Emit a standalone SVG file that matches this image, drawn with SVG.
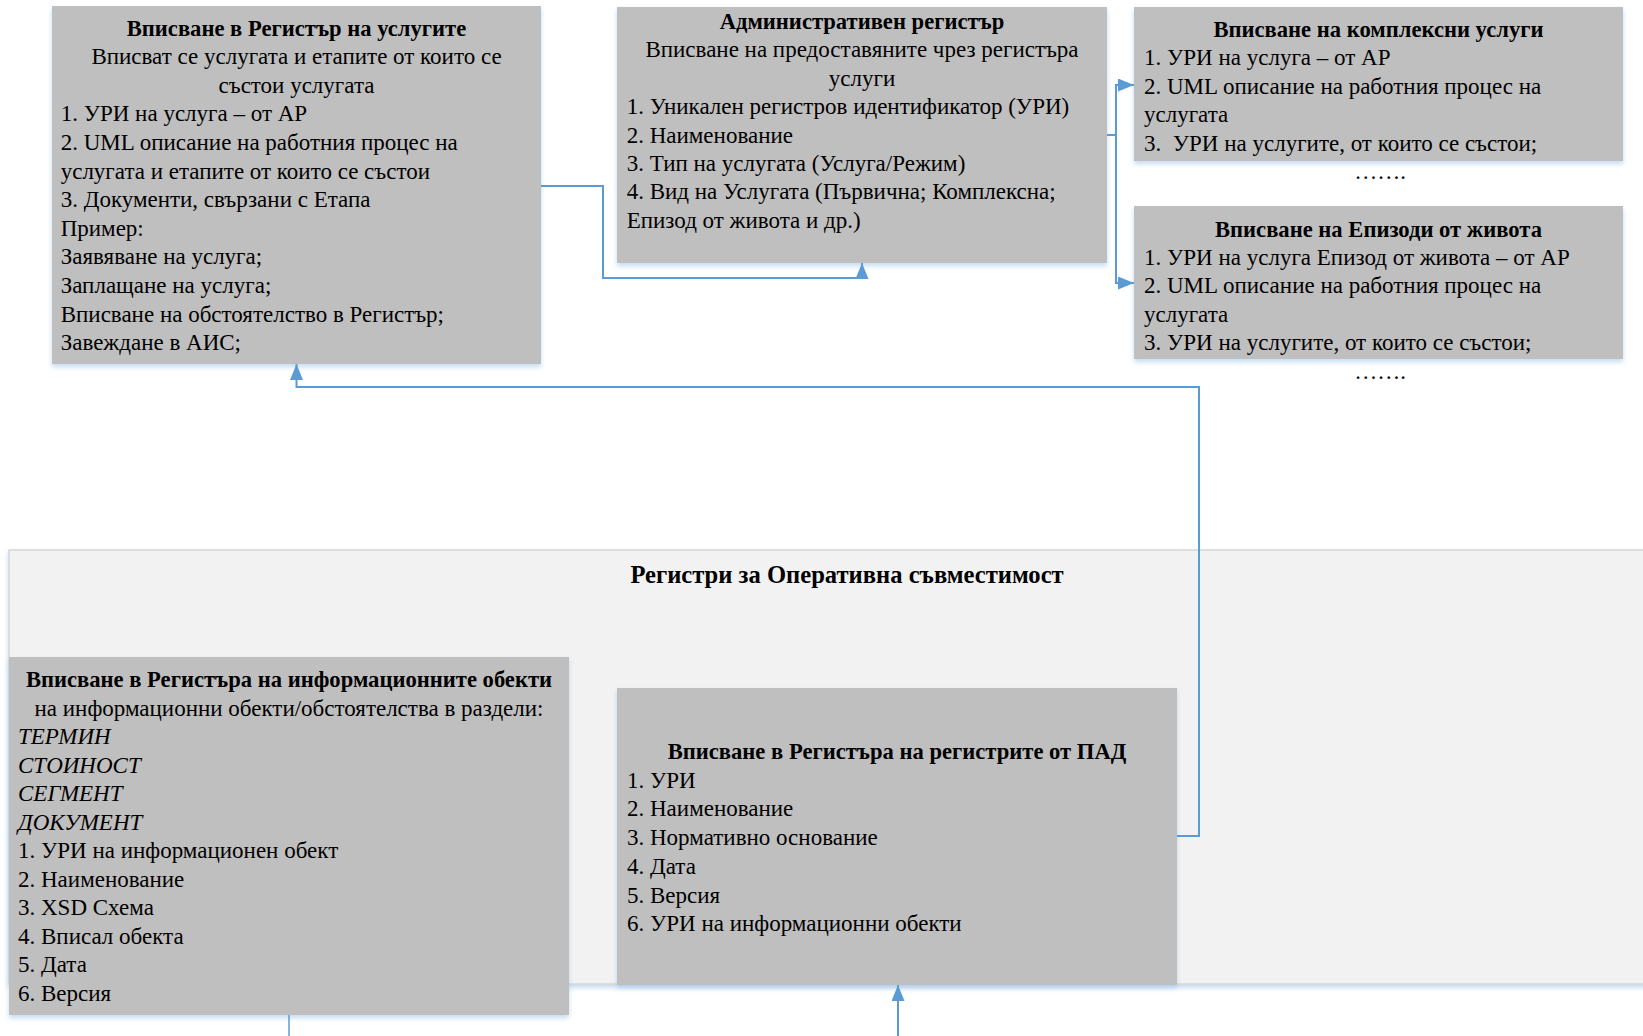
<svg xmlns="http://www.w3.org/2000/svg" width="1643" height="1036" viewBox="0 0 1643 1036">
<style>
  text { font-family: "Liberation Serif", "Times New Roman", serif; font-size: 23px; fill: #000; white-space: pre; }
  .b { font-weight: bold; font-size: 22.6px; }
  .c { text-anchor: middle; }
  .i { font-style: italic; }
  .t { font-size: 24.6px; }
  .box { fill: #BFBFBF; filter: url(#sh); }
  .cont { fill: #F2F2F2; stroke: #D6D6D6; stroke-width: 1.5; filter: url(#sh); }
  .conn { fill: none; stroke: #5B9BD5; stroke-width: 2; }
</style>
<defs>
  <filter id="sh" x="-5%" y="-5%" width="110%" height="115%">
    <feDropShadow dx="0" dy="3" stdDeviation="2.5" flood-color="#9DC3E6" flood-opacity="0.6"/>
  </filter>
  <marker id="arr" markerUnits="userSpaceOnUse" markerWidth="16" markerHeight="13" refX="16" refY="6.5" orient="auto">
    <path d="M0,0 L16,6.5 L0,13 z" fill="#5B9BD5"/>
  </marker>
</defs>

<g id="container">
  <rect class="cont" x="9" y="550" width="1650" height="434"/>
  <text class="b c t" x="847" y="583">Регистри за Оперативна съвместимост</text>
</g>

<g id="services">
  <rect class="box" x="52" y="6" width="489" height="358"/>
  <text class="b c" x="296.5" y="35.5">Вписване в Регистър на услугите</text>
  <text class="c" x="296.5" y="64.1">Вписват се услугата и етапите от които се</text>
  <text class="c" x="296.5" y="92.7">състои услугата</text>
  <text x="60.7" y="121.3">1. УРИ на услуга – от АР</text>
  <text x="60.7" y="149.9">2. UML описание на работния процес на</text>
  <text x="60.7" y="178.5">услугата и етапите от които се състои</text>
  <text x="60.7" y="207.1">3. Документи, свързани с Етапа</text>
  <text x="60.7" y="235.7">Пример:</text>
  <text x="60.7" y="264.3">Заявяване на услуга;</text>
  <text x="60.7" y="292.9">Заплащане на услуга;</text>
  <text x="60.7" y="321.5">Вписване на обстоятелство в Регистър;</text>
  <text x="60.7" y="350.1">Завеждане в АИС;</text>
</g>

<g id="admin">
  <rect class="box" x="617" y="7" width="490" height="256"/>
  <text class="b c" x="862" y="29">Административен регистър</text>
  <text class="c" x="862" y="57.4">Вписване на предоставяните чрез регистъра</text>
  <text class="c" x="862" y="85.8">услуги</text>
  <text x="626.7" y="114.2">1. Уникален регистров идентификатор (УРИ)</text>
  <text x="626.7" y="142.6">2. Наименование</text>
  <text x="626.7" y="171">3. Тип на услугата (Услуга/Режим)</text>
  <text x="626.7" y="199.4">4. Вид на Услугата (Първична; Комплексна;</text>
  <text x="626.7" y="227.8">Епизод от живота и др.)</text>
</g>

<g id="complex">
  <rect class="box" x="1134" y="7" width="489" height="154"/>
  <text class="b c" x="1378.5" y="37">Вписване на комплексни услуги</text>
  <text x="1144" y="65.4">1. УРИ на услуга – от АР</text>
  <text x="1144" y="93.8">2. UML описание на работния процес на</text>
  <text x="1144" y="122.2">услугата</text>
  <text x="1144" y="150.6">3.  УРИ на услугите, от които се състои;</text>
  <text class="c" x="1380" y="179">…….</text>
</g>

<g id="episodes">
  <rect class="box" x="1134" y="206" width="489" height="153"/>
  <text class="b c" x="1378.5" y="236.5">Вписване на Епизоди от живота</text>
  <text x="1144" y="264.9">1. УРИ на услуга Епизод от живота – от АР</text>
  <text x="1144" y="293.3">2. UML описание на работния процес на</text>
  <text x="1144" y="321.7">услугата</text>
  <text x="1144" y="350.1">3. УРИ на услугите, от които се състои;</text>
  <text class="c" x="1380" y="378.5">…….</text>
</g>

<g id="infoobjects">
  <rect class="box" x="9" y="657" width="560" height="358"/>
  <text class="b c" x="289" y="687">Вписване в Регистъра на информационните обекти</text>
  <text class="c" x="289" y="715.5">на информационни обекти/обстоятелства в раздели:</text>
  <text class="i" x="18" y="744">ТЕРМИН</text>
  <text class="i" x="18" y="772.5">СТОИНОСТ</text>
  <text class="i" x="18" y="801">СЕГМЕНТ</text>
  <text class="i" x="18" y="829.5">ДОКУМЕНТ</text>
  <text x="18" y="858">1. УРИ на информационен обект</text>
  <text x="18" y="886.5">2. Наименование</text>
  <text x="18" y="915">3. XSD Схема</text>
  <text x="18" y="943.5">4. Вписал обекта</text>
  <text x="18" y="972">5. Дата</text>
  <text x="18" y="1000.5">6. Версия</text>
</g>

<g id="pad">
  <rect class="box" x="617" y="688" width="560" height="297"/>
  <text class="b c" x="897" y="759">Вписване в Регистъра на регистрите от ПАД</text>
  <text x="627" y="787.7">1. УРИ</text>
  <text x="627" y="816.4">2. Наименование</text>
  <text x="627" y="845.1">3. Нормативно основание</text>
  <text x="627" y="873.8">4. Дата</text>
  <text x="627" y="902.5">5. Версия</text>
  <text x="627" y="931.2">6. УРИ на информационни обекти</text>
</g>

<g id="connectors">
  <path class="conn" d="M541,186 H603 V278 H862 V263" marker-end="url(#arr)"/>
  <path class="conn" d="M1107,135 H1116 V85 H1134" marker-end="url(#arr)"/>
  <path class="conn" d="M1116,135 V283 H1134" marker-end="url(#arr)"/>
  <path class="conn" d="M1177,836 H1199 V387 H296.5 V364" marker-end="url(#arr)"/>
  <path class="conn" d="M289,1015 V1036" style="stroke-width:1.5"/>
  <path class="conn" d="M898,1036 V985" marker-end="url(#arr)"/>
</g>
</svg>
